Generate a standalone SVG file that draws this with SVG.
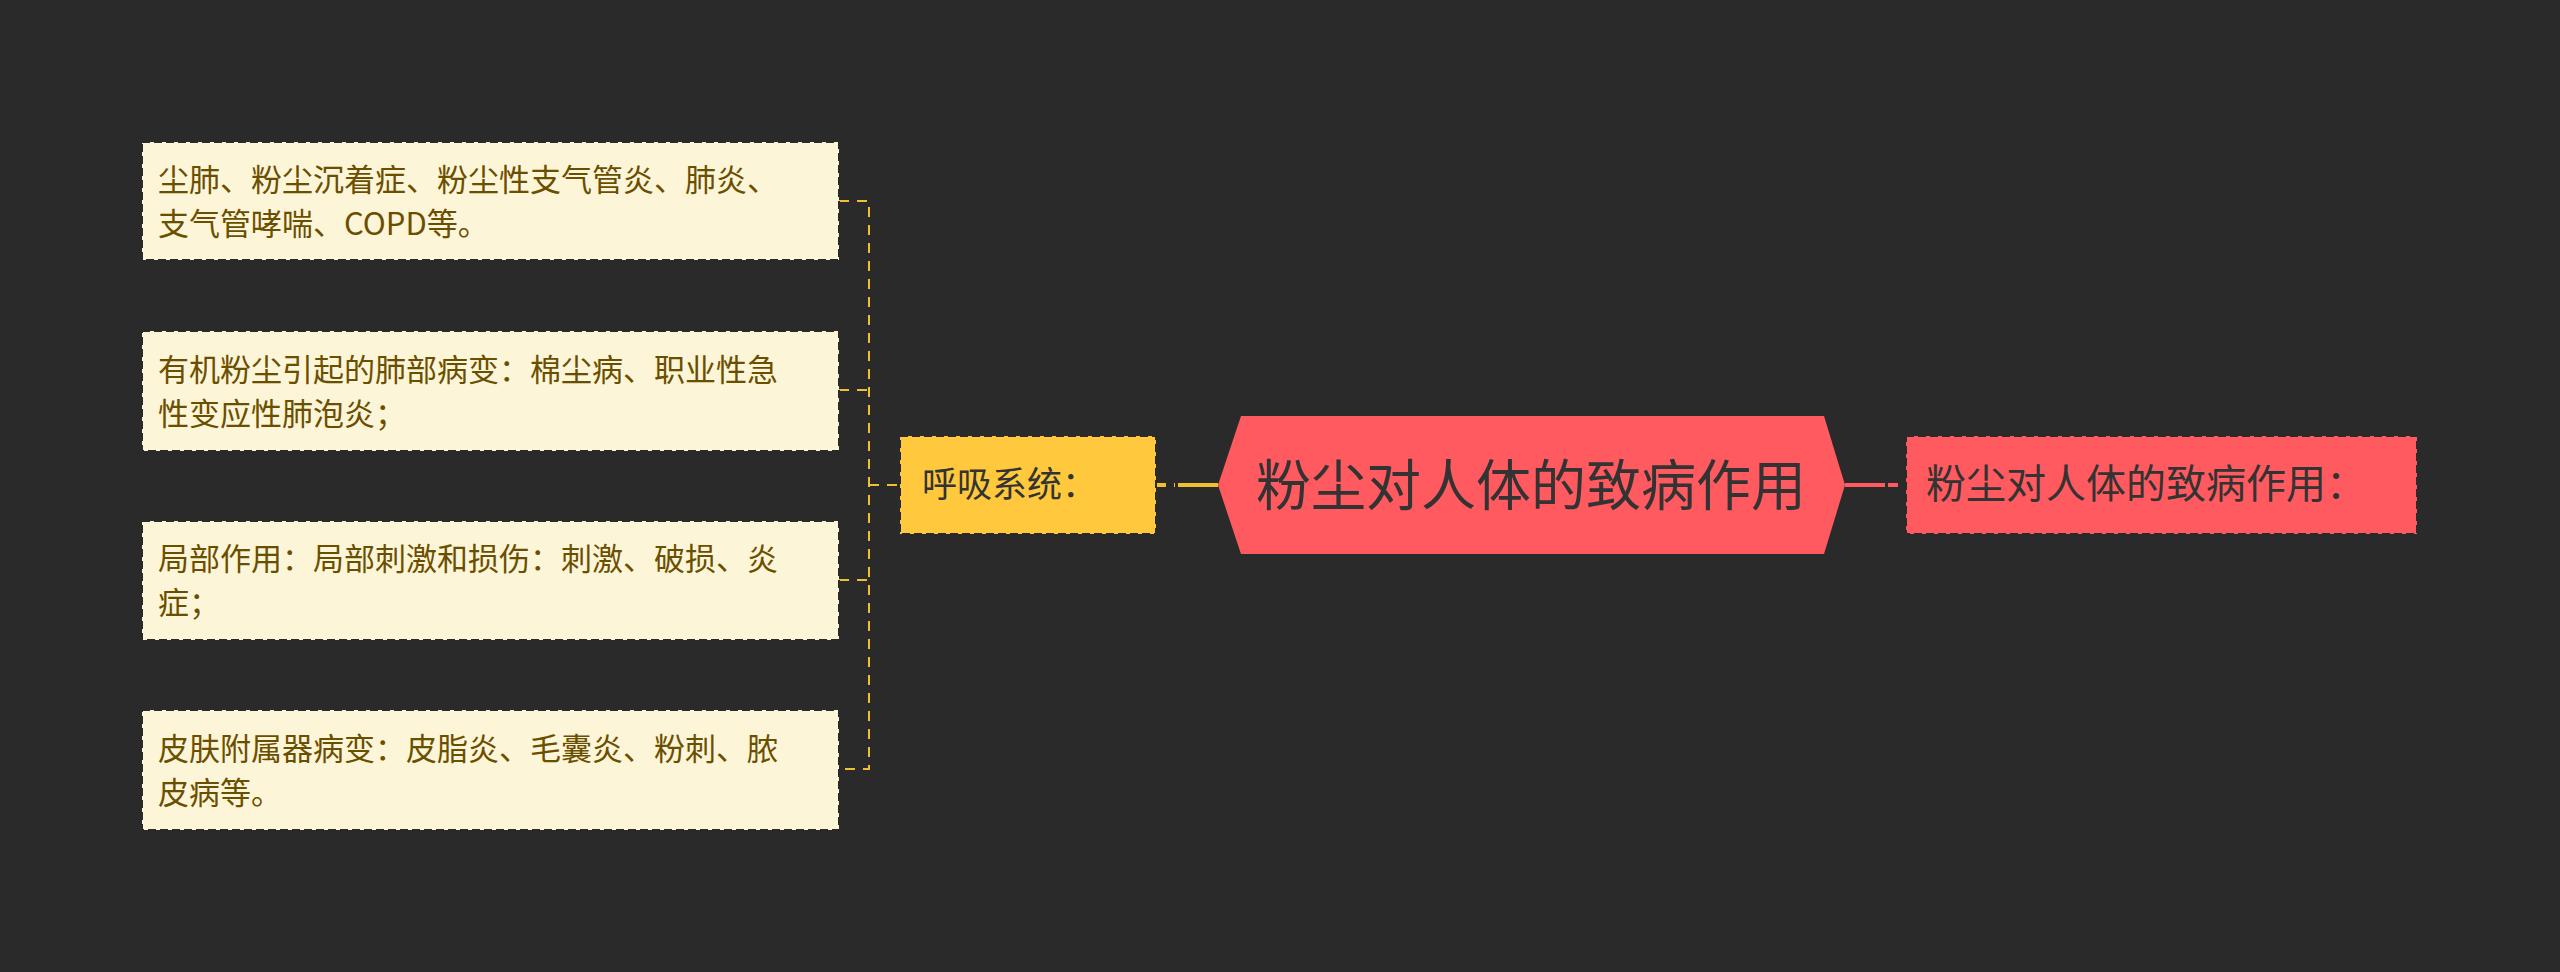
<svg xmlns="http://www.w3.org/2000/svg" width="2560" height="972" viewBox="0 0 2560 972">
<style>
text{font-family:"Noto Sans CJK SC","Noto Sans",sans-serif}
.leaf rect{fill:#fdf5d8;stroke:#2a2a2a;stroke-width:2;stroke-dasharray:8 4}
.leaf text{fill:#6b4f00;font-size:31px}
.con{fill:none;stroke:#f0c030;stroke-width:2;stroke-dasharray:10 8}
</style>
<rect width="2560" height="972" fill="#2a2a2a"/>
<g id="connectors">
<path class="con" d="M839 201H869V769H839M839 390H869M839 580H869M869 485H900"/>
<path d="M1156 485H1175" stroke="#f0c030" stroke-width="4" stroke-dasharray="10 8"/>
<path d="M1178 485H1218" stroke="#f0c030" stroke-width="4"/>
<path d="M1845 485H1885" stroke="#ff5a5f" stroke-width="4"/>
<path d="M1888 485H1906" stroke="#ff5a5f" stroke-width="4" stroke-dasharray="10 8"/>
</g>
<g id="leaf1" class="leaf"><rect x="142" y="142" width="697" height="118"/>
<text x="158" y="191">尘肺、粉尘沉着症、粉尘性支气管炎、肺炎、</text><text x="158" y="235">支气管哮喘、COPD等。</text></g>
<g id="leaf2" class="leaf"><rect x="142" y="331" width="697" height="120"/>
<text x="158" y="381">有机粉尘引起的肺部病变：棉尘病、职业性急</text><text x="158" y="425">性变应性肺泡炎；</text></g>
<g id="leaf3" class="leaf"><rect x="142" y="521" width="697" height="119"/>
<text x="158" y="570">局部作用：局部刺激和损伤：刺激、破损、炎</text><text x="158" y="614">症；</text></g>
<g id="leaf4" class="leaf"><rect x="142" y="710" width="697" height="120"/>
<text x="158" y="760">皮肤附属器病变：皮脂炎、毛囊炎、粉刺、脓</text><text x="158" y="804">皮病等。</text></g>
<g id="resp"><rect x="900" y="436" width="256" height="98" fill="#ffc83d" stroke="#2a2a2a" stroke-width="2" stroke-dasharray="8 4"/>
<text x="922" y="497" font-size="35" fill="#333">呼吸系统：</text></g>
<g id="root"><polygon points="1218,485 1241,416 1824,416 1845,485 1824,554 1241,554" fill="#ff5a5f"/>
<text x="1531" y="505" font-size="55" fill="#333" text-anchor="middle">粉尘对人体的致病作用</text></g>
<g id="right"><rect x="1906" y="436" width="511" height="98" fill="#ff5a5f" stroke="#2a2a2a" stroke-width="2" stroke-dasharray="8 4"/>
<text x="1926" y="498" font-size="40" fill="#333">粉尘对人体的致病作用：</text></g>
</svg>
